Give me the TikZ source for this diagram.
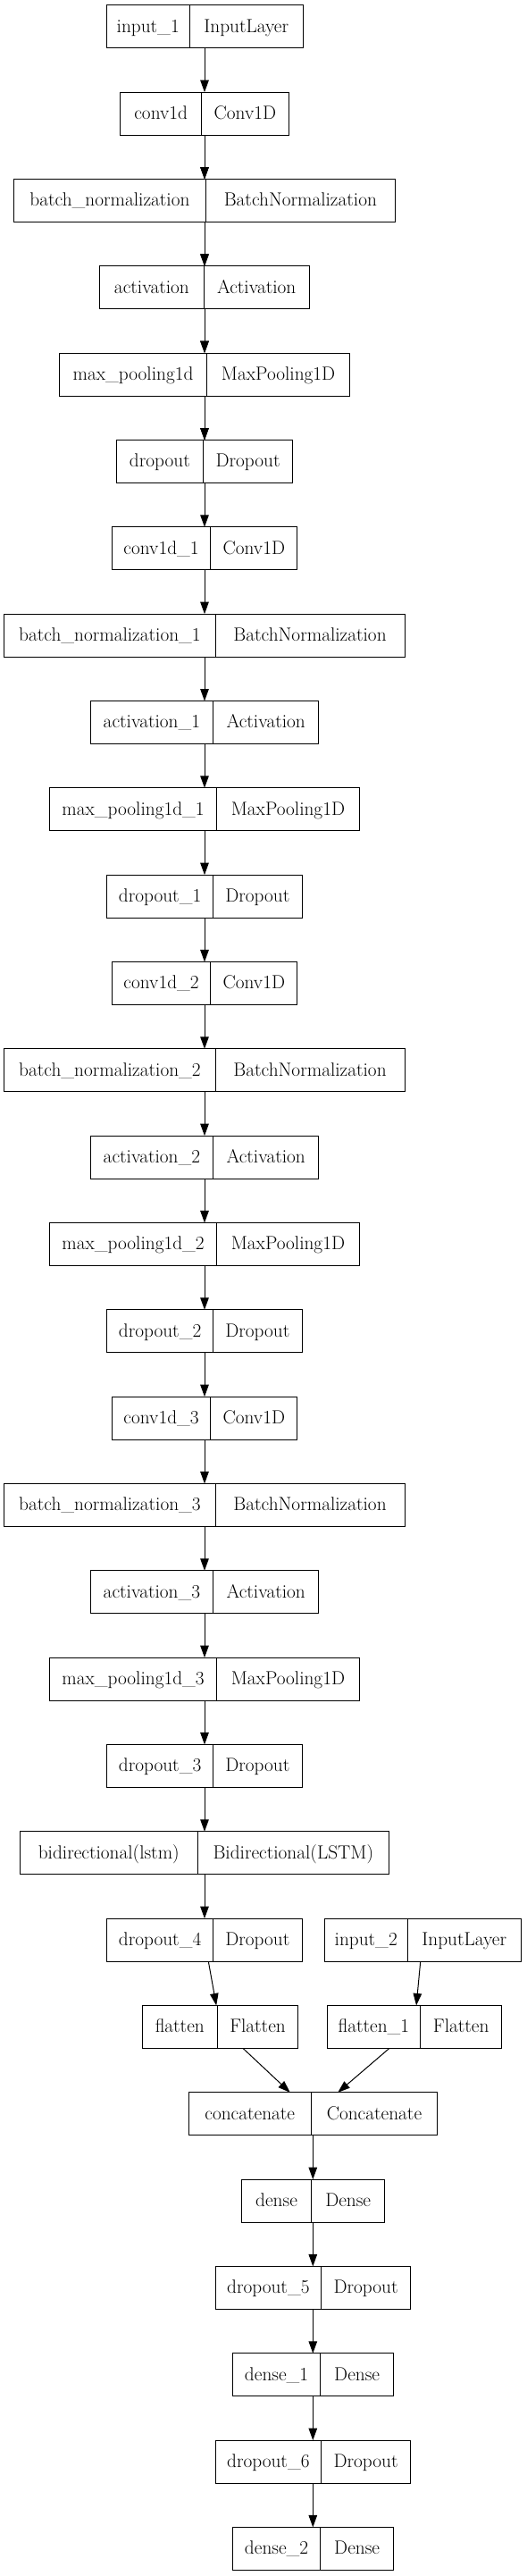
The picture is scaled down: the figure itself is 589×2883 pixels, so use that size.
\documentclass[tikz,border=0pt]{standalone}
\usepackage{fontspec}
\usetikzlibrary{arrows.meta}

\tikzset{
  layerbox/.style={draw, line width=1pt, rectangle, minimum height=48pt, inner sep=0pt, outer sep=0pt},
  fieldtext/.style={rectangle, minimum height=48pt, inner sep=0pt, outer sep=0pt,
    text height=17pt, text depth=4.4pt, font=\fontsize{21.3}{25}\selectfont},
  flow/.style={line width=1pt, -{Triangle[length=13.5pt, width=9.5pt]}},
}

% name, x, row, left width, right width, left text, right text
\newcommand{\layer}[7]{%
  \node[layerbox, minimum width=#4+#5] (#1) at (#2, {29.85+97.33*(#3)}) {};
  \node[fieldtext, minimum width=#4, anchor=west] (#1l) at (#1.west) {#6};
  \node[fieldtext, minimum width=#5, anchor=east] (#1r) at (#1.east) {#7};
  \draw[line width=1pt] (#1l.north east) -- (#1l.south east);
}

\begin{document}
\begin{tikzpicture}[x=1pt, y=-1pt]
        \useasboundingbox (0,0) rectangle (589,2883);

        \layer{input1}{229}{0}{93.5}{126.5}{input\_1}{InputLayer}

        % first conv block
        \layer{conv0}{229}{1}{90.8}{97.6}{conv1d}{Conv1D}
        \layer{bn0}{229}{2}{214.7}{212.1}{batch\_normalization}{BatchNormalization}
        \layer{act0}{229}{3}{116.4}{118.2}{activation}{Activation}
        \layer{pool0}{229}{4}{165.2}{159.9}{max\_pooling1d}{MaxPooling1D}
        \layer{drop0}{229}{5}{97.2}{100.2}{dropout}{Dropout}

        % conv blocks 1 to 3
        \foreach \k in {1,2,3} {
          \pgfmathtruncatemacro{\r}{1+5*\k}
          \layer{conv\k}{229}{\r}{110.7}{96.9}{conv1d\_\k}{Conv1D}
          \layer{bn\k}{229}{\r+1}{236.1}{212.1}{batch\_normalization\_\k}{BatchNormalization}
          \layer{act\k}{229}{\r+2}{137.4}{118.2}{activation\_\k}{Activation}
          \layer{pool\k}{229}{\r+3}{186.9}{159.9}{max\_pooling1d\_\k}{MaxPooling1D}
          \layer{drop\k}{229}{\r+4}{118.6}{99.8}{dropout\_\k}{Dropout}
        }

        \layer{bidir}{229}{21}{198.6}{214.4}{bidirectional(lstm)}{Bidirectional(LSTM)}
        \layer{drop4}{229}{22}{118.6}{99.8}{dropout\_4}{Dropout}
        \layer{input2}{473}{22}{93.5}{126.5}{input\_2}{InputLayer}
        \layer{flatten0}{246.5}{23}{84.1}{90.4}{flatten}{Flatten}
        \layer{flatten1}{463.8}{23}{104.8}{90.8}{flatten\_1}{Flatten}
        \layer{concat}{350.3}{24}{137.4}{141.1}{concatenate}{Concatenate}
        \layer{dense0}{350.3}{25}{78.8}{81.5}{dense}{Dense}
        \layer{drop5}{350.3}{26}{118.6}{99.9}{dropout\_5}{Dropout}
        \layer{dense1}{350.3}{27}{98.7}{81.4}{dense\_1}{Dense}
        \layer{drop6}{350.3}{28}{118.6}{99.9}{dropout\_6}{Dropout}
        \layer{dense2}{350.3}{29}{98.7}{81.4}{dense\_2}{Dense}

        % edges
        \foreach \a/\b in {input1/conv0, conv0/bn0, bn0/act0, act0/pool0, pool0/drop0,
            drop0/conv1, drop1/conv2, drop2/conv3, drop3/bidir, bidir/drop4,
            drop4/flatten0, input2/flatten1, flatten0/concat, flatten1/concat,
            concat/dense0, dense0/drop5, drop5/dense1, dense1/drop6, drop6/dense2} {
          \draw[flow] (\a) -- (\b);
        }
        \foreach \k in {0,1,2,3} {
          \draw[flow] (conv\k) -- (bn\k);
          \draw[flow] (bn\k) -- (act\k);
          \draw[flow] (act\k) -- (pool\k);
          \draw[flow] (pool\k) -- (drop\k);
        }
\end{tikzpicture}
\end{document}
